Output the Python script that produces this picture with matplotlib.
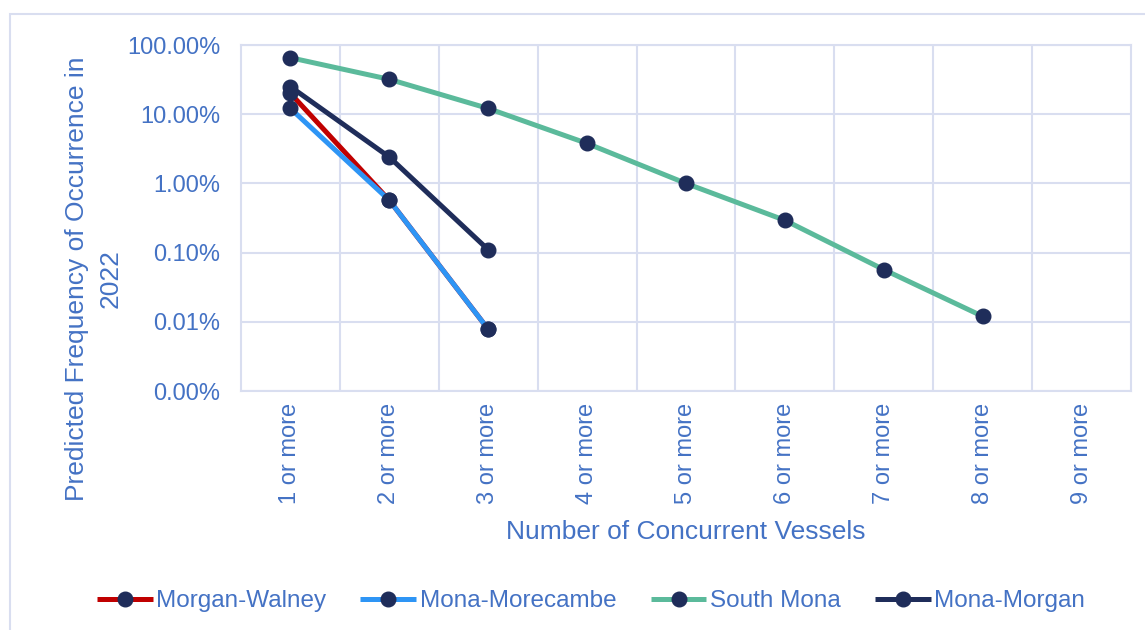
import numpy as np
import matplotlib.pyplot as plt
from matplotlib.ticker import NullLocator
from matplotlib.patches import Rectangle

plt.rcParams['font.family'] = ['Liberation Sans', 'DejaVu Sans']

# data (percent)
categories = ["1 or more", "2 or more", "3 or more", "4 or more", "5 or more",
              "6 or more", "7 or more", "8 or more", "9 or more"]
morgan_walney = [20.0, 0.57, 0.0078]
mona_morecambe = [12.1, 0.57, 0.0078]
south_mona = [65.5, 31.9, 12.1, 3.78, 1.0, 0.293, 0.0568, 0.012]
mona_morgan = [25.0, 2.4, 0.11]
y_ticks = [0.001, 0.01, 0.1, 1, 10, 100]

txt_col = '#4472C4'
grid_col = '#D9DEF0'
marker_col = '#1F2D5A'

fig = plt.figure(figsize=(11.45, 6.3), dpi=100)
fig.patches.append(Rectangle((10 / 1145, -0.1), 1.2, 1 - 14 / 630 + 0.1,
                             transform=fig.transFigure, fill=False,
                             edgecolor=grid_col, linewidth=1.5))
ax = fig.add_axes([241 / 1145, 1 - 391 / 630, 890 / 1145, 346 / 630])

series = [("Morgan-Walney", morgan_walney, '#C00000'),
          ("Mona-Morecambe", mona_morecambe, '#2E95F5'),
          ("South Mona", south_mona, '#5BBA9B'),
          ("Mona-Morgan", mona_morgan, '#1F2D5A')]
for name, vals, col in series:
    x = np.arange(1, len(vals) + 1)
    ax.plot(x, vals, color=col, linewidth=3.6, marker='o', markersize=10.5,
            markerfacecolor=marker_col, markeredgecolor=marker_col,
            label=name, zorder=3, solid_capstyle='butt')

ax.set_yscale('log')
ax.set_ylim(0.001, 100)
ax.set_yticks(y_ticks)
ax.set_yticklabels([f"{v:.2f}%" for v in y_ticks])
ax.yaxis.set_minor_locator(NullLocator())
ax.set_xlim(0.5, 9.5)
ax.set_xticks(np.arange(1, 10))
ax.set_xticklabels(categories, rotation=90)
ax.set_xticks(np.arange(1.5, 9.5, 1), minor=True)

ax.grid(which='major', axis='y', color=grid_col, linewidth=1.5)
ax.grid(which='minor', axis='x', color=grid_col, linewidth=1.5)
ax.set_axisbelow(True)
for s in ax.spines.values():
    s.set_color(grid_col)
    s.set_linewidth(1.5)

ax.tick_params(which='both', length=0, labelsize=17, labelcolor=txt_col)
ax.tick_params(axis='y', pad=15)
ax.tick_params(axis='x', pad=8.5)

fig.text(94 / 1145, 1 - 279 / 630, "Predicted Frequency of Occurrence in\n2022",
         rotation=90, ha='center', va='center', multialignment='center',
         fontsize=19, color=txt_col, linespacing=1.5)
fig.text(686 / 1145, 1 - 532 / 630, "Number of Concurrent Vessels",
         ha='center', va='center', fontsize=19, color=txt_col)

leg = fig.legend(loc='center', bbox_to_anchor=(591 / 1145, 1 - 601 / 630), ncol=4,
                 frameon=False, fontsize=17.5, handlelength=2.3, handletextpad=0.15,
                 columnspacing=1.4)
for t in leg.get_texts():
    t.set_color(txt_col)

fig.savefig('out.png', dpi=100)
